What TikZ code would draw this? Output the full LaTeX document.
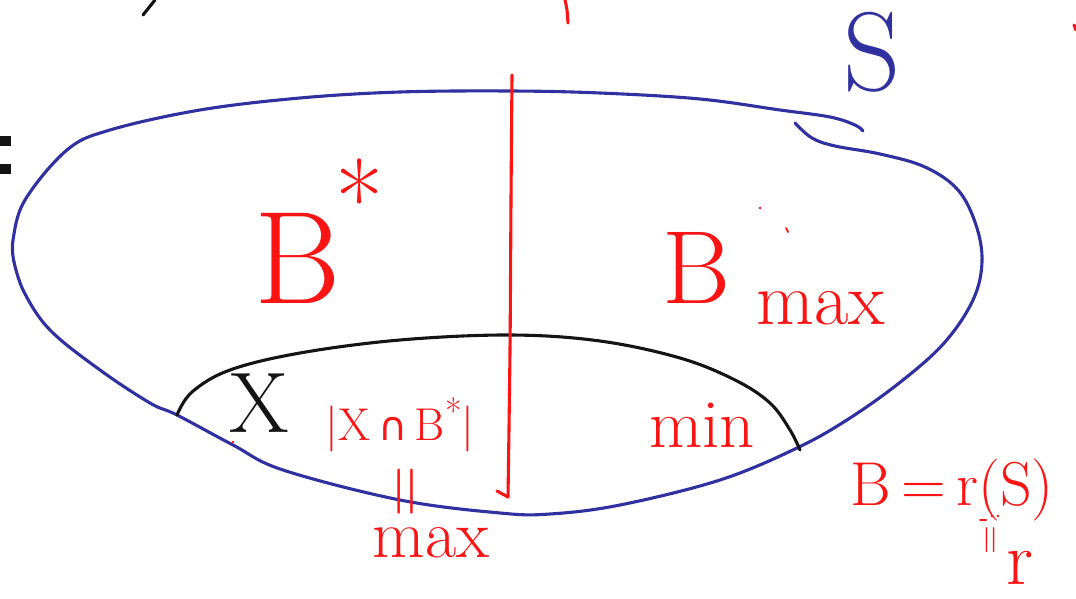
\documentclass[tikz,border=0pt]{standalone}
\usepackage{fontspec}
\newfontfamily\symf{DejaVu Sans}
\definecolor{blueink}{RGB}{48,48,160}
\definecolor{redink}{RGB}{250,20,20}
\definecolor{blackink}{RGB}{20,20,20}
\tikzset{
  ink/.style={line width=3.1pt, line cap=round, line join=round},
  blueline/.style={ink, draw=blueink},
  redline/.style={ink, draw=redink},
  blackline/.style={ink, draw=blackink},
  redtext/.style={text=redink, inner sep=0pt, anchor=center},
  bluetext/.style={text=blueink, inner sep=0pt, anchor=center},
  blacktext/.style={text=blackink, inner sep=0pt, anchor=center}
}
\newcommand{\fs}[1]{\fontsize{#1}{#1}\selectfont}
\begin{document}
\begin{tikzpicture}[x=1pt,y=-1pt]
\useasboundingbox (0,0) rectangle (1076,599);
% outer set S (blue)
\draw[blueline] plot[smooth, tension=0.6] coordinates {(14,262) (13,240) (25,200) (67,150) (110,130) (200,110) (300,98) (400,92) (510,91) (600,93) (700,99) (780,110) (830,117) (855,125) (863,131)};
\draw[blueline] plot[smooth, tension=0.6] coordinates {(795,123) (812,138) (835,146) (880,154) (925,167) (958,190) (976,225) (982,262) (973,300) (945,342) (903,380) (850,418) (797,448) (720,480) (620,505) (550,514) (500,513) (400,500) (283,470) (233,445) (177,415) (150,403) (100,370) (50,330) (24,292) (14,262)};
% X boundary (black)
\draw[blackline] plot[smooth, tension=0.6] coordinates {(177,415) (192,392) (230,370) (300,353) (400,340) (510,335) (600,341) (680,358) (735,380) (770,403) (790,430) (800,450)};
% red vertical divider
\draw[redline] plot[smooth] coordinates {(512,75) (511,200) (510,350) (508,497)};
\draw[redline] (508,497) -- (497,491);
% stray marks
\draw[blackline] (143,15) -- (155,0);
\draw[redline] plot[smooth] coordinates {(565,0) (567,10) (568,23)};
\draw[redline] (1074,25) -- (1076,30);
\fill[blackink] (0,136) rectangle (11,146);
\fill[blackink] (0,164) rectangle (11,174);
\fill[redink] (233,442) circle (1.3pt);
\fill[redink] (760,208) circle (1.4pt);
\draw[redline, line width=1.8pt] (786,228) -- (788,232);
\draw[redline, line width=2pt] (980,520) -- (986,520);
\fill[redink] (992,516) circle (1.3pt);
\fill[redink] (998,516) circle (1.3pt);
% labels
\node[bluetext] (S) at (872,52) {\fs{112}S};
\node[redtext] (Bstar) at (298,258) {\fs{132}B};
\node[redtext] (star) at (360,198) {\fs{105}*};
\node[redtext] (Bm) at (696,268) {\fs{104}B};
\node[redtext] (maxsub) at (821,308) {\fs{75}max};
\node[blacktext] (X) at (259,403) {\fs{86}X};
\node[redtext] (inter) at (400,425) {\fs{46}|X\,{\symf\fs{40}∩}\,B\raisebox{0.35em}{\fs{36}*}|};
\node[redtext, rotate=90] (eq1) at (411,492) {\fs{72}=};
\node[redtext] (maxbot) at (431,543) {\fs{68}max};
\node[redtext] (min) at (702,425) {\fs{69}min};
\node[redtext] (Brs) at (952,490) {\fs{62}B\,=\,r(S)};
\node[redtext, rotate=90] (eq2) at (993,540) {\fs{40}=};
\node[redtext] (r) at (1020,568) {\fs{76}r};
\end{tikzpicture}
\end{document}
